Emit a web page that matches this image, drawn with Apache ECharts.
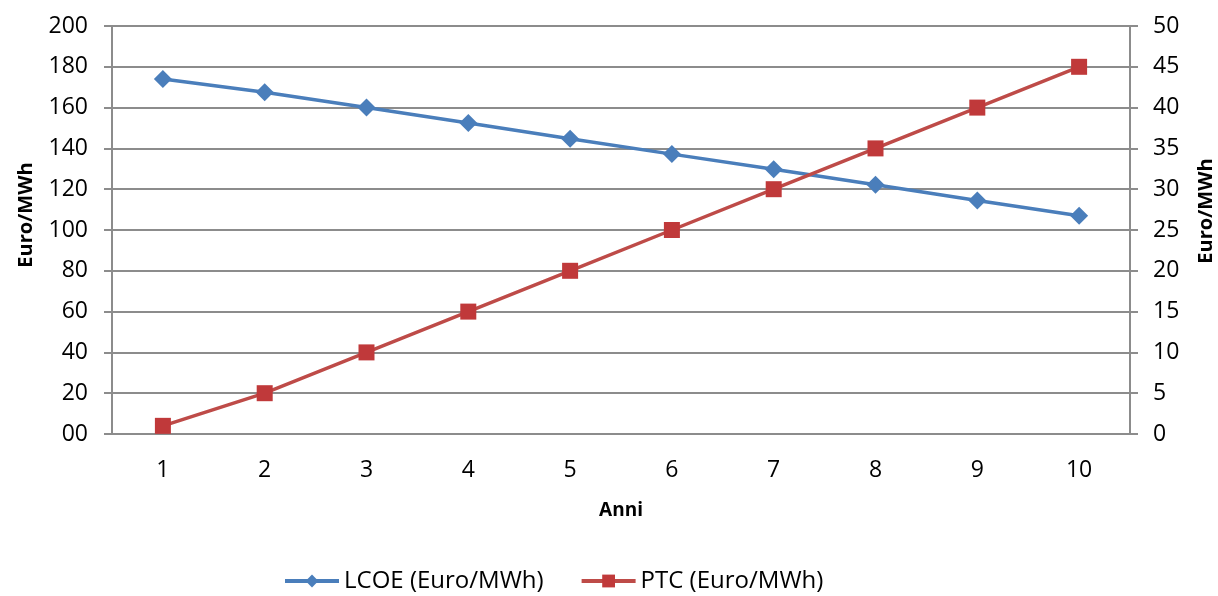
<!DOCTYPE html>
<html>
<head>
<meta charset="utf-8">
<script src="https://cdn.jsdelivr.net/npm/echarts@6/dist/echarts.min.js"></script>
<style>
  html, body { margin: 0; padding: 0; background: #fff; }
  #chart { width: 1218px; height: 596px; }
</style>
</head>
<body>
<div id="chart"></div>
<script>
// dati
const anni = ['1', '2', '3', '4', '5', '6', '7', '8', '9', '10'];
const lcoe = [174, 167.5, 160, 152.5, 144.7, 137.2, 129.8, 122.2, 114.5, 107];
const ptc = [1, 5, 10, 15, 20, 25, 30, 35, 40, 45];

const font = 'Open Sans';
const chart = echarts.init(document.getElementById('chart'));

const option = {
    animation: false,
    textStyle: { fontFamily: font },
    grid: { left: 112, right: 88, top: 26, bottom: 162, outerBoundsMode: 'none', containLabel: false },
    legend: {
        top: 569,
        left: 278,
        padding: [0, 5, 0, 5],
        itemWidth: 54,
        itemHeight: 16,
        itemGap: 36,
        lineStyle: { width: 4 },
        textStyle: { fontSize: 24, color: '#000', fontFamily: font },
        data: ['LCOE (Euro/MWh)', 'PTC (Euro/MWh)']
    },
    xAxis: {
        type: 'category',
        data: anni,
        name: 'Anni',
        nameLocation: 'middle',
        nameGap: 67,
        nameTextStyle: { fontSize: 19, fontWeight: 'bold', color: '#000' },
        axisLine: { lineStyle: { color: '#8c8c8c', width: 2 } },
        axisTick: { length: 8, lineStyle: { color: '#8c8c8c', width: 2 } },
        axisLabel: { fontSize: 23, color: '#000', margin: 25 }
    },
    yAxis: [{
        type: 'value',
        min: 0, max: 200, interval: 20,
        name: 'Euro/MWh',
        nameLocation: 'middle',
        nameGap: 76,
        nameTextStyle: { fontSize: 20, fontWeight: 'bold', color: '#000', padding: [0, 0, 0, 30] },
        axisLine: { show: true, lineStyle: { color: '#8c8c8c', width: 2 } },
        axisTick: { show: true, length: 8, lineStyle: { color: '#8c8c8c', width: 2 } },
        axisLabel: {
            fontSize: 23, color: '#000', margin: 24,
            formatter: v => v === 0 ? '00' : String(v)
        },
        splitLine: { lineStyle: { color: '#8c8c8c', width: 2 } }
    }, {
        type: 'value',
        min: 0, max: 50, interval: 5,
        name: 'Euro/MWh',
        nameLocation: 'middle',
        nameGap: 66,
        nameRotate: 90,
        nameTextStyle: { fontSize: 20, fontWeight: 'bold', color: '#000', padding: [0, 0, 0, 38] },
        axisLine: { show: true, lineStyle: { color: '#8c8c8c', width: 2 } },
        axisTick: { show: true, length: 8, lineStyle: { color: '#8c8c8c', width: 2 } },
        axisLabel: { fontSize: 23, color: '#000', margin: 23 },
        splitLine: { show: false }
    }],
    series: [{
        name: 'LCOE (Euro/MWh)',
        type: 'line',
        yAxisIndex: 0,
        data: lcoe,
        symbol: 'diamond',
        symbolSize: 18,
        lineStyle: { color: '#4a7ebb', width: 3.5 },
        itemStyle: { color: '#4a7ebb' }
    }, {
        name: 'PTC (Euro/MWh)',
        type: 'line',
        yAxisIndex: 1,
        data: ptc,
        symbol: 'rect',
        symbolSize: 16,
        lineStyle: { color: '#be4b48', width: 3.5 },
        itemStyle: { color: '#c0393a' }
    }]
};

chart.setOption(option);
</script>
</body>
</html>
